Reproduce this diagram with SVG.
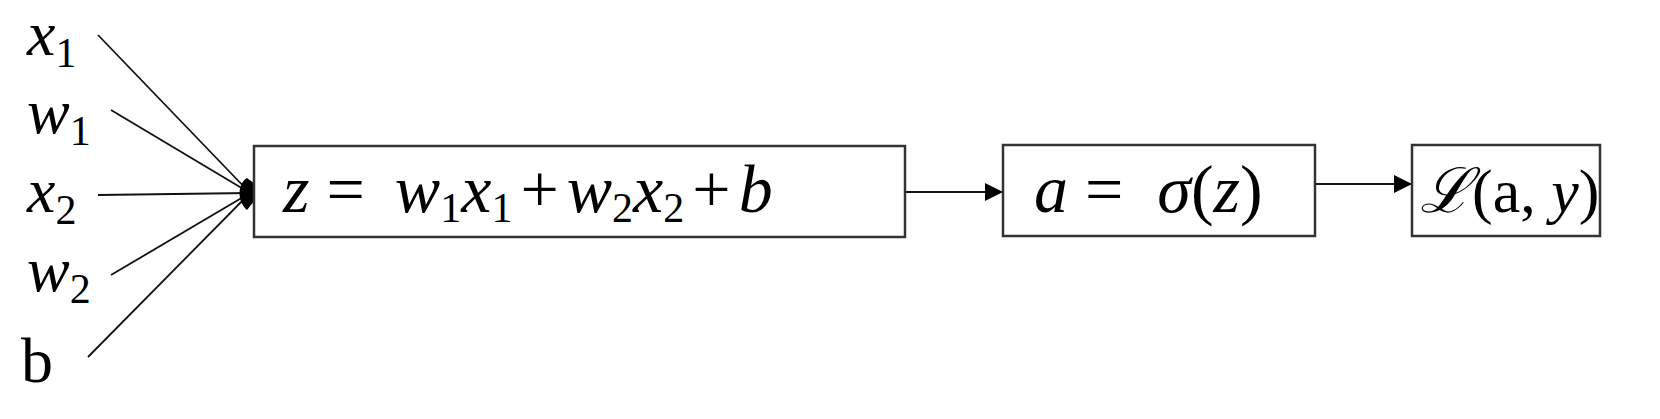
<svg xmlns="http://www.w3.org/2000/svg" width="1660" height="419" viewBox="0 0 1660 419">
<style>
.m{font-family:"Liberation Serif","DejaVu Serif",serif;font-style:italic;font-size:68px;fill:#000}
.l{font-size:64px}
.u{font-style:normal}
.s{font-size:42px;font-style:normal}
.box{fill:#fff;stroke:#333;stroke-width:2.5}
.ln{stroke:#111;stroke-width:1.8;fill:none}
</style>
<defs>
<marker id="ah" markerWidth="18" markerHeight="18" refX="17" refY="9" orient="auto" markerUnits="userSpaceOnUse" viewBox="0 0 18 18"><path d="M0,0 L18,9 L0,18 z" fill="#000"/></marker>
</defs>
<g id="connectors">
<line class="ln" x1="98" y1="35" x2="250" y2="193"/>
<line class="ln" x1="111" y1="110" x2="250" y2="193"/>
<line class="ln" x1="98" y1="195" x2="250" y2="193"/>
<line class="ln" x1="111" y1="275" x2="250" y2="193"/>
<line class="ln" x1="88" y1="357" x2="250" y2="193"/>
<path d="M247,178 C237,184 237,202 247,210 L255,200 L255,184 Z" fill="#000"/>
<line class="ln" x1="905" y1="192" x2="1002" y2="192" style="marker-end:url(#ah)" stroke-width="2"/>
<line class="ln" x1="1315" y1="184" x2="1411" y2="184" style="marker-end:url(#ah)" stroke-width="2"/>
</g>
<g id="labels">
<text class="m l" x="27" y="55">x<tspan class="s" dy="12">1</tspan></text>
<text class="m l" x="27" y="133">w<tspan class="s" dy="12">1</tspan></text>
<text class="m l" x="27" y="212">x<tspan class="s" dy="12">2</tspan></text>
<text class="m l" x="27" y="291">w<tspan class="s" dy="12">2</tspan></text>
<text class="m l u" x="21" y="382">b</text>
</g>
<g id="node-z">
<rect class="box" x="254" y="146" width="651" height="91"/>
<text class="m" x="283" y="212">z <tspan class="u">=</tspan><tspan dx="30">w</tspan><tspan class="s" dy="10">1</tspan><tspan dy="-10">x</tspan><tspan class="s" dy="10">1</tspan><tspan class="u" dy="-10" dx="8">+</tspan><tspan dx="8">w</tspan><tspan class="s" dy="10">2</tspan><tspan dy="-10">x</tspan><tspan class="s" dy="10">2</tspan><tspan class="u" dy="-10" dx="8">+</tspan><tspan dx="8">b</tspan></text>
</g>
<g id="node-a">
<rect class="box" x="1003" y="145" width="312" height="91"/>
<text class="m" x="1034" y="212">a <tspan class="u">=</tspan><tspan dx="34">σ</tspan><tspan class="u">(</tspan>z<tspan class="u">)</tspan></text>
</g>
<g id="node-L">
<rect class="box" x="1412" y="145" width="188" height="91"/>
<text class="m" x="1420" y="212" style="font-size:62px">ℒ<tspan class="u">(a, </tspan>y<tspan class="u">)</tspan></text>
</g>
</svg>
